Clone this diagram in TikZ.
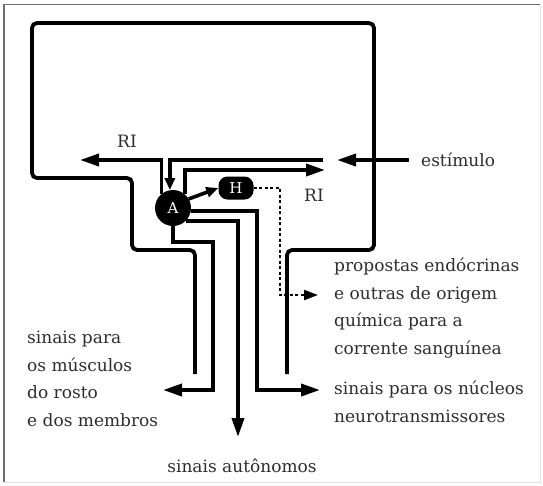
\documentclass[tikz,border=0pt]{standalone}
\usepackage{fontspec}
\setmainfont{DejaVu Serif}
\usepackage{tikz}
\usetikzlibrary{arrows.meta,calc}
\definecolor{frameGray}{RGB}{110,110,110}
\definecolor{paleGray}{RGB}{225,225,225}
\definecolor{inkGray}{RGB}{45,45,45}
\tikzset{
  brain/.style={line width=3.8pt, rounded corners=5pt},
  sig/.style={line width=3.6pt, -{Triangle[length=19pt,width=12pt]}},
  sigsmall/.style={line width=3.6pt, -{Triangle[length=12pt,width=10pt]}},
  hormone/.style={line width=2.2pt, dash pattern=on 3pt off 2.5pt, -{Triangle[length=14pt,width=10pt]}},
  lbl/.style={font=\fontsize{17}{27.5}\selectfont, text=inkGray, inner sep=0pt, align=left},
  centre/.style={circle, fill=black, minimum size=36pt, inner sep=0pt, text=white, font=\fontsize{15}{15}\selectfont},
  hbox/.style={rectangle, rounded corners=9pt, fill=black, minimum width=35pt, minimum height=23pt, inner sep=0pt, text=white, font=\fontsize{15}{15}\selectfont},
}

\begin{document}
\begin{tikzpicture}[x=1pt,y=-1pt]
    \useasboundingbox (0,0) rectangle (543,485);
    \draw[frameGray, line width=1.2pt] (4,482) -- (4,4.5) -- (540,4.5);
    \draw[paleGray, line width=1pt] (540,4.5) -- (540,482) -- (4,482);
    \draw[brain] (195,374) -- (195,250) -- (132,250) -- (132,178) -- (32,178) -- (32,23)
        -- (374,23) -- (374,250) -- (287,250) -- (287,374);
    \node[centre] (A) at (173,208) {A};
    \node[hbox] (H) at (236,188) {H};
    \coordinate (riL) at (80,160);
    \coordinate (stimIn) at (323,160);
    \coordinate (riR) at (325,170);
    \coordinate (stimTip) at (337,160);
    \coordinate (hBend) at (280,295);
    \coordinate (endo) at (318,295);
    \coordinate (l1) at (257,390);
    \coordinate (neuro) at (320,390);
    \coordinate (auto) at (238,437);
    \coordinate (l3) at (213,242);
    \coordinate (musc) at (163,390);
    \draw[sig] (A.130) |- (riL);
    \draw[sigsmall] (stimIn) -| (A.100);
    \draw[sig] (A.50) |- (riR);
    \draw[sigsmall] (A.30) -- (H.west);
    \draw[hormone] (H.east) -| (hBend) -- (endo);
    \draw[sig] (A.-10) -| (l1) -- (neuro);
    \draw[sig] (A.-45) -| (auto);
    \draw[sig] (A.south) |- (l3) |- (musc);
    \node[lbl] (riTop) at (127,141) {RI};
    \node[lbl] (riRight) at (314,195) {RI};
    \node[lbl, anchor=west] (est) at (421,160) {estímulo};
    \draw[sig, shorten <=12pt] (est.west) -- (stimTip);
    \node[lbl, anchor=north west] (endoTxt) at (334,258) {propostas endócrinas\\e outras de origem\\química para a\\corrente sanguínea};
    \node[lbl, anchor=north west] (neuroTxt) at (334,381) {sinais para os núcleos\\neurotransmissores};
    \node[lbl, anchor=north west] (muscTxt) at (27,331) {sinais para\\os músculos\\do rosto\\e dos membros};
    \node[lbl] (autoTxt) at (242,466) {sinais autônomos};
\end{tikzpicture}
\end{document}
